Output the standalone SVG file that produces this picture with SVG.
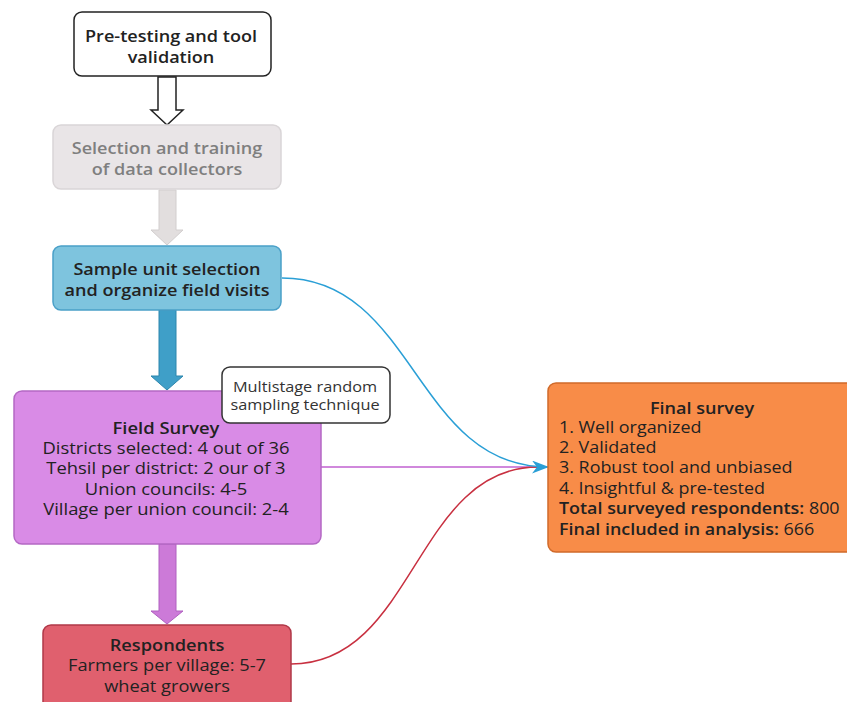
<svg xmlns="http://www.w3.org/2000/svg" width="847" height="702" viewBox="0 0 847 702">
<defs>
<style>
text{font-family:"Open Sans","Noto Sans","DejaVu Sans",sans-serif;font-size:16px;fill:#222;text-anchor:middle}
.b{font-weight:600}
.l text{text-anchor:start}
.note{font-size:14.3px;fill:#333}
.box{stroke-width:1.5}
</style>
<marker id="ah" markerWidth="17" markerHeight="13" refX="16" refY="6.5" orient="auto" markerUnits="userSpaceOnUse">
<path d="M0,0 L17,6.5 L0,13 L5,6.5 Z" fill="#2a9fd6"/>
</marker>
</defs>
<rect width="847" height="702" fill="#fff"/>
<g id="connectors">
<path d="M158,77 H176 V110 H183 L167,125 L151,110 H158 Z" fill="#fff" stroke="#222" stroke-width="1.5"/>
<path d="M159,190 H176 V230 H183 L167,245 L151,230 H159 Z" fill="#e2dede" stroke="#d2cece" stroke-width="1"/>
<path d="M159,310 H176 V376 H183 L167,390 L151,376 H159 Z" fill="#3f9fc8" stroke="#2d86ad" stroke-width="1"/>
<path d="M159,544 H176 V611 H183 L167,624 L151,611 H159 Z" fill="#cc7ad8" stroke="#b060c0" stroke-width="1"/>
<path d="M321,467 H538" fill="none" stroke="#c060d0" stroke-width="1.5"/>
<path d="M291,664 C415,664 415,467 538,467" fill="none" stroke="#c83040" stroke-width="1.5"/>
<path d="M282,278 C415,278 415,467 548,467" fill="none" stroke="#2a9fd6" stroke-width="1.5" marker-end="url(#ah)"/>
</g>
<g id="pretesting">
<rect class="box" x="74" y="12" width="197" height="64" rx="8" fill="#fff" stroke="#222"/>
<g transform="translate(171 0) scale(1.13 1)">
<text class="b" x="0" y="42">Pre-testing and tool</text>
<text class="b" x="0" y="63">validation</text>
</g>
</g>
<g id="selection">
<rect class="box" x="53" y="125" width="228" height="64" rx="8" fill="#e9e5e7" stroke="#d9d5d7"/>
<g transform="translate(167 0) scale(1.13 1)">
<text class="b" x="0" y="154" style="fill:#7f7f7f">Selection and training</text>
<text class="b" x="0" y="175" style="fill:#7f7f7f">of data collectors</text>
</g>
</g>
<g id="sample">
<rect class="box" x="53" y="246" width="228" height="64" rx="8" fill="#7ec4de" stroke="#4aa0c8"/>
<g transform="translate(167 0) scale(1.13 1)">
<text class="b" x="0" y="275">Sample unit selection</text>
<text class="b" x="0" y="296">and organize field visits</text>
</g>
</g>
<g id="fieldsurvey">
<rect class="box" x="14" y="391" width="307" height="153" rx="8" fill="#d98be6" stroke="#b468c4"/>
<g transform="translate(166 0) scale(1.15 1)">
<text class="b" x="0" y="434">Field Survey</text>
<text x="0" y="454">Districts selected: 4 out of 36</text>
<text x="0" y="474">Tehsil per district: 2 our of 3</text>
<text x="0" y="495">Union councils: 4-5</text>
<text x="0" y="515">Village per union council: 2-4</text>
</g>
</g>
<g id="note">
<rect x="222" y="367" width="168" height="56" rx="8" fill="#fff" stroke="#333" stroke-width="1.5"/>
<g transform="translate(305 0) scale(1.14 1)">
<text class="note" x="0" y="392">Multistage random</text>
<text class="note" x="0" y="410">sampling technique</text>
</g>
</g>
<g id="respondents">
<rect class="box" x="43" y="625" width="248" height="90" rx="8" fill="#e0606e" stroke="#b03848"/>
<g transform="translate(167 0) scale(1.14 1)">
<text class="b" x="0" y="651">Respondents</text>
<text x="0" y="671">Farmers per village: 5-7</text>
<text x="0" y="692">wheat growers</text>
</g>
</g>
<g id="finalsurvey">
<rect class="box" x="548" y="383" width="310" height="169" rx="8" fill="#f88c48" stroke="#d06a2a"/>
<g transform="translate(702 0) scale(1.13 1)">
<text class="b" x="0" y="414">Final survey</text>
</g>
<g class="l" transform="translate(559 0) scale(1.12 1)">
<text x="0" y="433">1. Well organized</text>
<text x="0" y="453">2. Validated</text>
<text x="0" y="473">3. Robust tool and unbiased</text>
<text x="0" y="494">4. Insightful &amp; pre-tested</text>
<text x="0" y="514"><tspan class="b">Total surveyed respondents:</tspan> 800</text>
<text x="0" y="535"><tspan class="b">Final included in analysis:</tspan> 666</text>
</g>
</g>
</svg>
